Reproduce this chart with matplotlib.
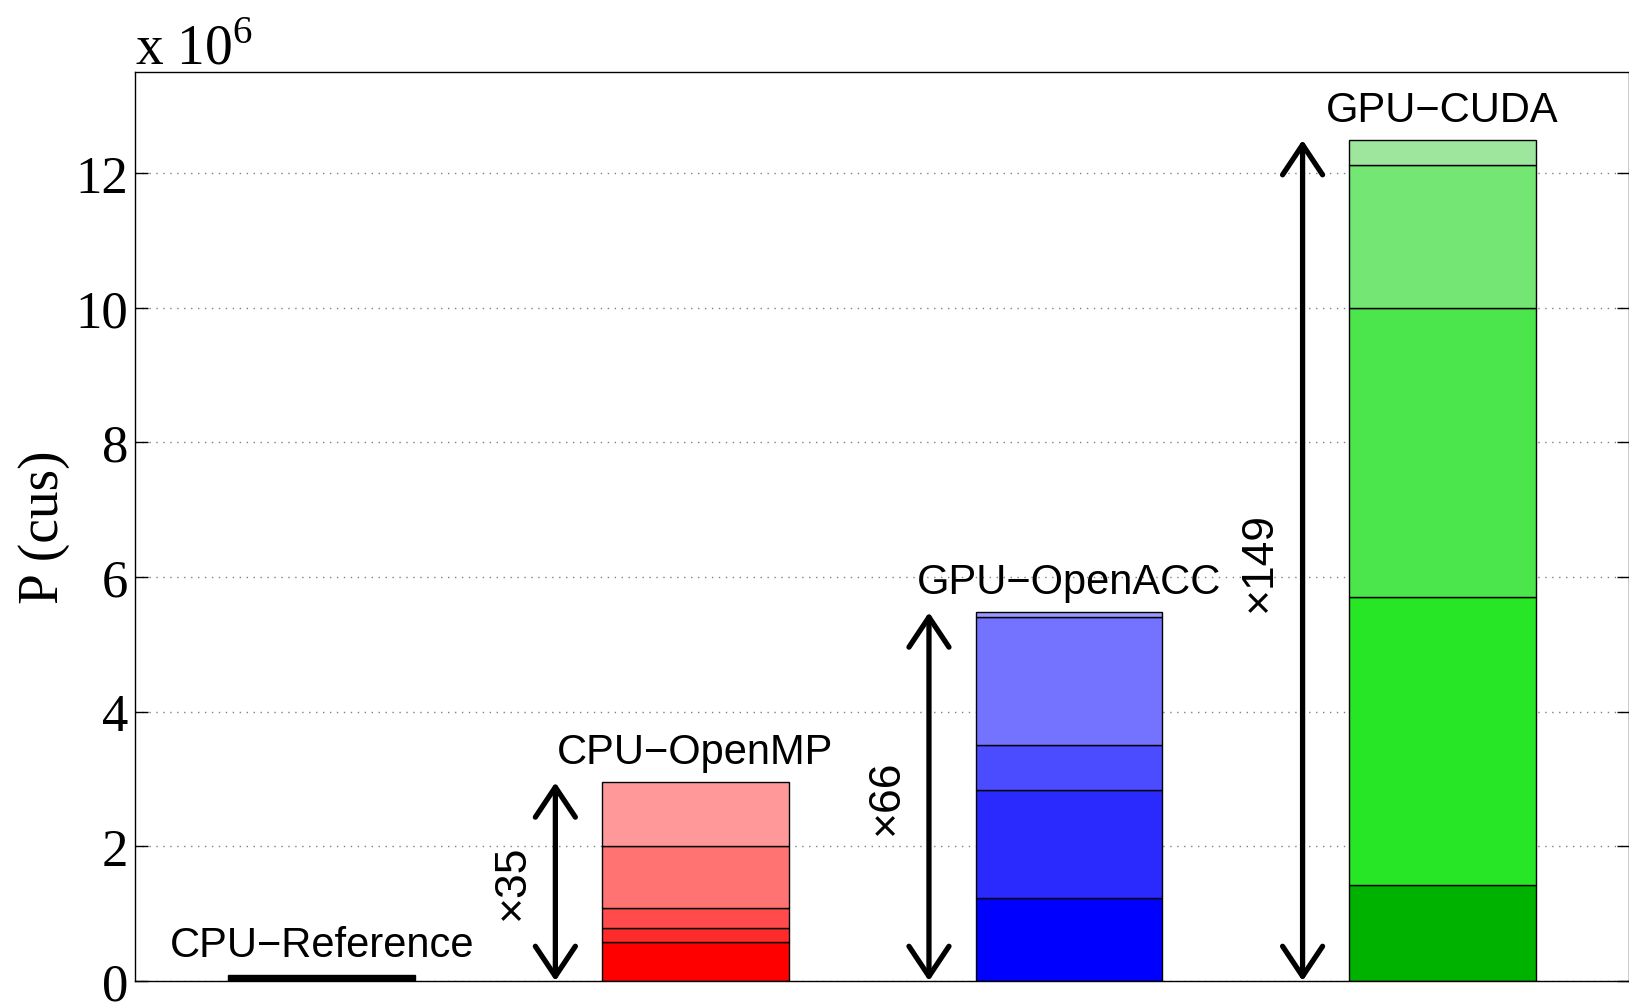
import matplotlib
matplotlib.use('Agg')
from matplotlib import pyplot as plt

# performance in millions of cell updates per second, one stack per version
labels = ['CPU\u2212Reference', 'CPU\u2212OpenMP', 'GPU\u2212OpenACC', 'GPU\u2212CUDA']
speedups = ['', '\u00d735', '\u00d766', '\u00d7149']
ref_parts = [0.084]
omp_parts = [0.58, 0.21, 0.30, 0.91, 0.95]
acc_parts = [1.24, 1.59, 0.67, 1.90, 0.075]
cuda_parts = [1.43, 4.28, 4.29, 2.12, 0.37]

ref_colors = ['#000000']
omp_colors = ['#ff0000', '#ff2a2a', '#ff4b4b', '#ff7373', '#ff9999']
acc_colors = ['#0000ff', '#2a2aff', '#4b4bff', '#7373ff', '#9999ff']
cuda_colors = ['#00b200', '#26e626', '#4be64b', '#74e674', '#9ee69e']

plt.rcParams['mathtext.fontset'] = 'custom'
plt.rcParams['mathtext.rm'] = 'Liberation Serif'

fig = plt.figure(figsize=(16.29, 10.03), dpi=100)
ax = fig.add_axes([0.0829, 0.0209, 0.9174, 0.9063])

stacks = [ref_parts, omp_parts, acc_parts, cuda_parts]
colors = [ref_colors, omp_colors, acc_colors, cuda_colors]

for i, (parts, cols) in enumerate(zip(stacks, colors)):
    x = i + 1
    bottom = 0.0
    for h, c in zip(parts, cols):
        ax.bar(x, h, width=0.5, bottom=bottom, color=c, edgecolor='black',
               linewidth=1.0, zorder=2)
        bottom += h
    ax.text(x, bottom + 0.45, labels[i], ha='center', va='center',
            fontsize=30, family='Liberation Sans', zorder=4)
    if speedups[i]:
        ax.annotate('', xy=(x - 0.375, bottom), xytext=(x - 0.375, 0.0),
                    arrowprops=dict(arrowstyle='<->,head_length=0.6,head_width=0.4',
                                    lw=3.8, color='black', shrinkA=0, shrinkB=0,
                                    mutation_scale=36),
                    zorder=3)
        ax.text(x - 0.49, bottom / 2, speedups[i], rotation=90, ha='center',
                va='center', fontsize=32, family='Liberation Sans')

ax.set_xlim(0.5, 4.5)
ax.set_ylim(0, 13.5)
ax.set_xticks([])
ax.set_yticks([0, 2, 4, 6, 8, 10, 12])
ax.yaxis.grid(True, linestyle=(0, (1, 4)), color='#808080', linewidth=1.0, zorder=0)
ax.set_axisbelow(True)
ax.tick_params(axis='y', direction='in', length=9, width=1, right=True,
               labelsize=38, pad=5)
for lab in ax.get_yticklabels():
    lab.set_family('Liberation Serif')
for sp in ax.spines.values():
    sp.set_linewidth(1.0)

ax.set_ylabel('P (cus)', fontsize=40, family='Liberation Serif', labelpad=4)
ax.text(0.0, 0.996, r'x 10$^{6}$', transform=ax.transAxes, ha='left', va='bottom',
        fontsize=40, family='Liberation Serif')

plt.savefig('out.png', dpi=100)
